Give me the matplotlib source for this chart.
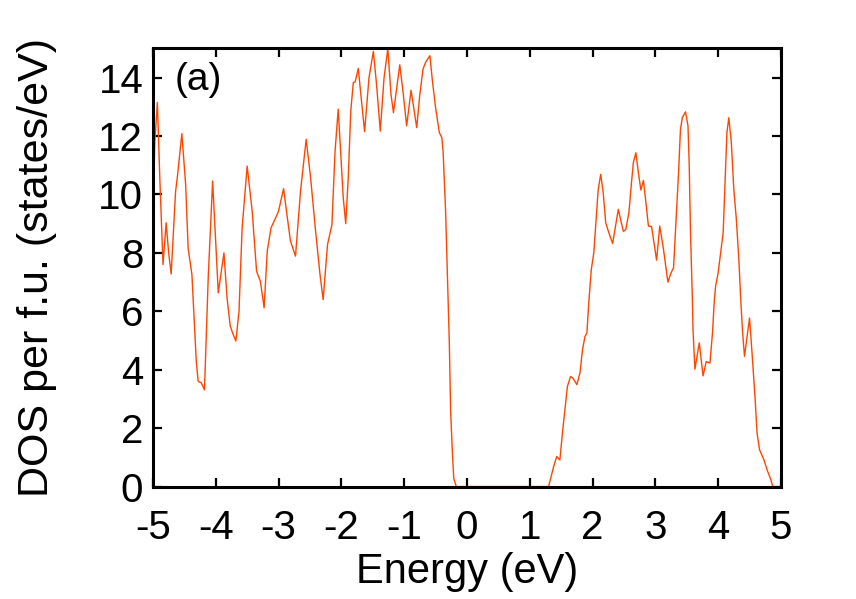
import numpy as np
import matplotlib
matplotlib.use('Agg')
from matplotlib import pyplot as plt

# energies (eV) and DOS (states/eV per f.u.)
energy_val = [-5.00, -4.97, -4.93, -4.89, -4.84, -4.79, -4.75, -4.71, -4.64, -4.61,
              -4.54, -4.48, -4.44, -4.38, -4.35, -4.31, -4.28, -4.23, -4.18, -4.12,
              -4.05, -4.00, -3.96, -3.87, -3.82, -3.77, -3.73, -3.68, -3.63, -3.58,
              -3.50, -3.42, -3.35, -3.29, -3.23, -3.18, -3.12, -3.04, -3.00, -2.92,
              -2.86, -2.81, -2.73, -2.65, -2.56, -2.49, -2.41, -2.34, -2.29, -2.22,
              -2.15, -2.10, -2.05, -2.01, -1.97, -1.93, -1.89, -1.85, -1.81, -1.78,
              -1.73, -1.69, -1.63, -1.56, -1.49, -1.44, -1.38, -1.32, -1.26, -1.21,
              -1.17, -1.11, -1.07, -1.02, -0.96, -0.89, -0.80, -0.75, -0.70, -0.66,
              -0.59, -0.55, -0.50, -0.44, -0.40, -0.38, -0.34, -0.31, -0.28, -0.26,
              -0.23, -0.21, -0.17]
dos_val = [9.5, 11.8, 13.15, 10.5, 7.6, 9.03, 8.0, 7.28, 10.1, 10.63,
           12.08, 10.35, 8.17, 7.26, 6.0, 4.28, 3.6, 3.55, 3.31, 7.15,
           10.46, 8.29, 6.63, 8.0, 6.46, 5.5, 5.25, 4.98, 6.0, 8.86,
           10.97, 9.43, 7.37, 7.03, 6.12, 8.06, 8.86, 9.23, 9.43, 10.2,
           9.2, 8.4, 7.89, 10.12, 11.89, 10.58, 8.74, 7.26, 6.4, 8.29,
           8.97, 11.49, 12.92, 11.38, 9.89, 9.0, 10.58, 12.86, 13.83, 13.86,
           14.32, 13.43, 12.15, 14.0, 14.9, 13.78, 12.17, 14.0, 15.0, 13.43,
           12.8, 13.78, 14.44, 13.55, 12.35, 13.57, 12.29, 13.43, 14.29, 14.52,
           14.75, 13.89, 12.98, 12.12, 11.95, 11.49, 9.43, 7.15, 4.86, 2.57,
           1.08, 0.28, 0.0]

energy_cond = [1.30, 1.38, 1.43, 1.48, 1.52, 1.56, 1.60, 1.65, 1.69, 1.75,
               1.80, 1.84, 1.88, 1.91, 1.94, 1.98, 2.02, 2.05, 2.09, 2.13,
               2.17, 2.21, 2.26, 2.32, 2.41, 2.49, 2.53, 2.58, 2.62, 2.65,
               2.69, 2.73, 2.77, 2.81, 2.85, 2.89, 2.94, 2.97, 3.02, 3.07,
               3.13, 3.20, 3.25, 3.29, 3.32, 3.37, 3.40, 3.43, 3.48, 3.52,
               3.54, 3.56, 3.59, 3.60, 3.63, 3.70, 3.76, 3.81, 3.87, 3.91,
               3.94, 3.96, 4.00, 4.04, 4.08, 4.11, 4.14, 4.17, 4.21, 4.25,
               4.29, 4.33, 4.36, 4.39, 4.42, 4.50, 4.54, 4.59, 4.62, 4.66,
               4.73, 4.78, 4.84, 4.87]
dos_cond = [0.0, 0.68, 1.03, 0.91, 1.83, 2.63, 3.43, 3.77, 3.71, 3.49,
            3.89, 4.69, 5.14, 5.26, 6.29, 7.43, 8.0, 8.92, 10.17, 10.69,
            10.06, 9.03, 8.69, 8.32, 9.49, 8.74, 8.8, 9.4, 10.4, 11.09,
            11.43, 10.75, 10.15, 10.48, 9.72, 8.92, 8.9, 8.46, 7.75, 8.92,
            8.12, 7.0, 7.32, 7.49, 8.69, 10.75, 12.23, 12.63, 12.83, 12.35,
            10.97, 8.69, 6.4, 5.37, 4.02, 4.92, 3.79, 4.28, 4.23, 5.26,
            6.4, 6.86, 7.32, 8.0, 8.69, 10.4, 12.12, 12.63, 11.78, 10.17,
            9.15, 7.77, 6.4, 5.26, 4.46, 5.77, 4.57, 2.97, 1.83, 1.26,
            0.91, 0.57, 0.23, 0.0]

x_ticks = [-5, -4, -3, -2, -1, 0, 1, 2, 3, 4, 5]
y_ticks = [0, 2, 4, 6, 8, 10, 12, 14]

plt.rcParams['font.family'] = ['Liberation Sans', 'DejaVu Sans']
plt.rcParams['axes.unicode_minus'] = False

fig = plt.figure(figsize=(8.56, 5.99), dpi=100)
ax = fig.add_axes([0.1787, 0.1877, 0.7336, 0.7314])

ax.plot(energy_val + energy_cond, dos_val + dos_cond, color='#ff4500', lw=1.0)

ax.set_xlim(-5, 5)
ax.set_ylim(0, 15)
ax.set_xticks(x_ticks)
ax.set_yticks(y_ticks)
ax.set_xticklabels([str(t) for t in x_ticks])
ax.set_yticklabels([str(t) for t in y_ticks])
ax.tick_params(direction='in', length=6.5, width=1.6, top=True, right=True,
               labelsize=29)
ax.tick_params(axis='x', pad=16)
ax.tick_params(axis='y', pad=7)
for s in ax.spines.values():
    s.set_linewidth(2.2)

ax.set_xlabel('Energy (eV)', fontsize=30, labelpad=4)
ax.set_ylabel('DOS per f.u. (states/eV)', fontsize=31, labelpad=30)
ax.text(0.035, 0.928, '(a)', transform=ax.transAxes, fontsize=28,
        ha='left', va='center')

fig.savefig('out.png', dpi=100)
